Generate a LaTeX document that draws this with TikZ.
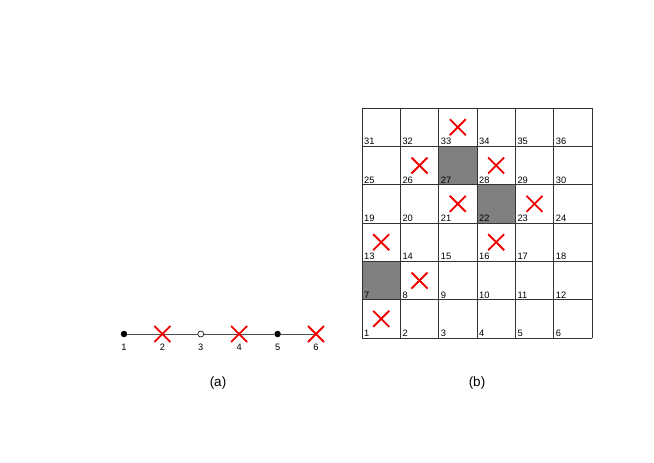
\documentclass[tikz,border=0pt]{standalone}
\usepackage{fontspec}
\setmainfont{Liberation Sans}
\begin{document}
\begin{tikzpicture}[x=1pt,y=-1pt,
  cross/.style={red!95!black,line width=1.8pt},
  gridline/.style={draw=black!80,line width=0.8pt},
  lbl/.style={font=\fontsize{9.3}{11}\selectfont,inner sep=0pt,anchor=base west},
  clbl/.style={font=\fontsize{9.3}{11}\selectfont,inner sep=0pt,anchor=base},
  captext/.style={font=\fontsize{13.5}{16}\selectfont,inner sep=0pt,anchor=base},
  fdot/.style={circle,fill=black,inner sep=0pt,minimum size=6.5pt},
  odot/.style={circle,draw=black,fill=white,line width=0.6pt,inner sep=0pt,minimum size=6pt},
  xpt/.style={inner sep=0pt,minimum size=0pt}]
\useasboundingbox (0,0) rectangle (654,463);
\def\cs{38.33}
\def\gx{362}
\def\gy{338}
% gray cells (row from bottom, col)
\foreach \r/\c in {4/2,3/3,1/0}{
  \fill[black!50] ({\gx+\c*\cs},{\gy-\r*\cs}) rectangle ({\gx+(\c+1)*\cs},{\gy-(\r+1)*\cs});
}
% grid
\foreach \i in {0,...,6}{
  \draw[gridline] ({\gx+\i*\cs},\gy) -- ({\gx+\i*\cs},{\gy-6*\cs});
  \draw[gridline] (\gx,{\gy-\i*\cs}) -- ({\gx+6*\cs},{\gy-\i*\cs});
}
% labels
\foreach \r in {0,...,5}{
  \foreach \c in {0,...,5}{
    \pgfmathtruncatemacro{\n}{\r*6+\c+1}
    \node[lbl] (g\n) at ({\gx+\c*\cs+2},{\gy-\r*\cs-1.5}) {\n};
  }
}
% crosses
\foreach \r/\c in {5/2,4/1,4/3,3/2,3/4,2/0,2/3,1/1,0/0}{
  \pgfmathsetmacro{\cx}{\gx+(\c+0.5)*\cs}
  \pgfmathsetmacro{\cy}{\gy-(\r+0.5)*\cs}
  \draw[cross] ({\cx-8},{\cy-8}) -- ({\cx+8},{\cy+8});
  \draw[cross] ({\cx-8},{\cy+8}) -- ({\cx+8},{\cy-8});
}
% chain
\node[fdot] (c1) at (124,334) {};
\node[xpt] (c2) at (162.4,334) {};
\node[odot] (c3) at (200.8,334) {};
\node[xpt] (c4) at (239.2,334) {};
\node[fdot] (c5) at (277.6,334) {};
\node[xpt] (c6) at (316,334) {};
\draw[black!70,line width=0.7pt] (c1) -- (c2) -- (c3) -- (c4) -- (c5) -- (c6);
\foreach \k in {2,4,6}{
  \draw[cross] ([shift={(-8,-8)}]c\k.center) -- ([shift={(8,8)}]c\k.center);
  \draw[cross] ([shift={(-8,8)}]c\k.center) -- ([shift={(8,-8)}]c\k.center);
}
\foreach \k in {1,...,6}{
  \node[clbl] (l\k) at ([yshift=-16]c\k.center) {\k};
}
\node[captext] (capa) at (218,386) {(a)};
\node[captext] (capb) at (477,386) {(b)};
\end{tikzpicture}
\end{document}
